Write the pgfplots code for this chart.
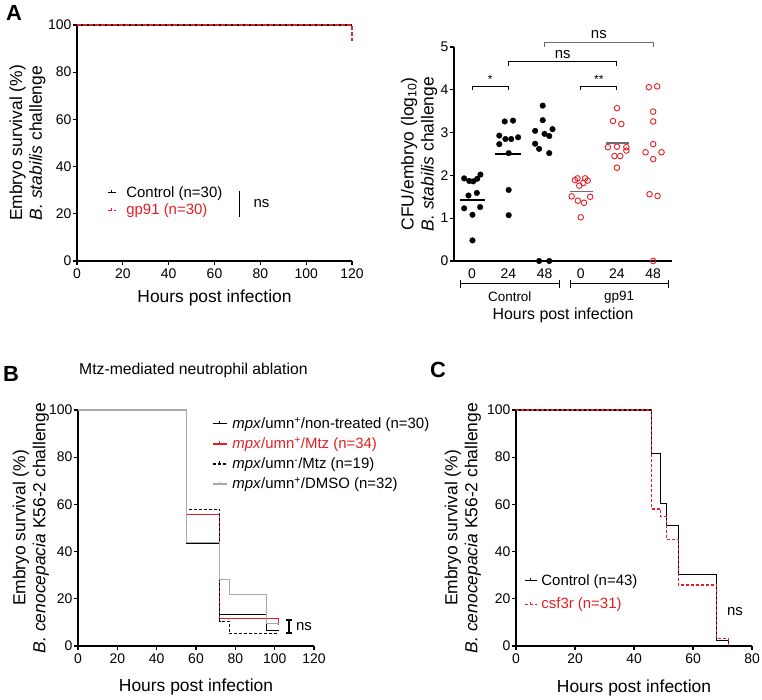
\documentclass[border=0pt]{standalone}
\usepackage{pgfplots}
\pgfplotsset{compat=1.18}
\usepackage{fontspec}
\setmainfont{Liberation Sans}
\definecolor{myred}{RGB}{228,30,36}
\definecolor{mygray}{RGB}{170,170,170}
\definecolor{brgray}{RGB}{110,110,110}
\newcommand\fsT{\fontsize{14}{16}\selectfont}
\newcommand\fsL{\fontsize{17.5}{20}\selectfont}
\newcommand\fsG{\fontsize{15}{17}\selectfont}
\pgfplotsset{
  gp/.style={
    scale only axis,
    axis x line*=bottom, axis y line*=left,
    axis line style={line width=1.2bp, -},
    tick align=outside,
    major tick length=4bp,
    tick style={line width=1.1bp, black},
    tick label style={font=\fsT},
    yticklabel style={inner sep=1.5bp},
    /pgf/number format/assume math mode=true,
    clip=false,
    legend cell align=left,
    x label style={font=\fsL},
    y label style={font=\fsL, align=center},
  },
}
\begin{document}
\begin{tikzpicture}[x=1bp,y=1bp]
\useasboundingbox (0,0) rectangle (762,700);
% ---------------- Panel A left
\begin{axis}[gp, const plot, at={(77bp,439bp)}, anchor=south west, width=275bp, height=236bp,
  xmin=0, xmax=120, ymin=0, ymax=100, xtick={0,20,...,120}, ytick={0,20,...,100},
  xlabel={Hours post infection},
  x label style={at={(axis description cs:0.5,-0.157)}, anchor=center},
  ylabel={Embryo survival (\%)\\\textit{B. stabilis} challenge},
  y label style={at={(axis description cs:-0.18,0.5)}, anchor=center},
  legend image code/.code={\draw[#1] (0bp,0bp) -- (8bp,0bp); \draw[#1,solid] (4bp,0bp) -- (4bp,2.5bp); \path (17bp,0bp);},
  legend style={draw=none, fill=none, font=\fsG, inner sep=0pt, nodes={inner sep=1bp, text depth=0.2em}, row sep=3bp,
    at={(axis description cs:0.109,0.322)}, anchor=north west},
]
\addplot[black, line width=1.2bp] coordinates {(0,100) (120,100)};
\addlegendentry{Control (n=30)}
\addplot[myred, line width=1.2bp, dash pattern=on 4bp off 2bp] coordinates {(0,100) (120,93.33)};
\addlegendentry{\textcolor{myred}{gp91 (n=30)}}
\draw[line width=1.1bp] (axis cs:71.1,29.7) -- (axis cs:71.1,18.6);
\node[font=\fsG, anchor=west] at (axis cs:75.5,24.2) {ns};
\end{axis}
% ---------------- Panel A right
\begin{axis}[gp, at={(454bp,439bp)}, anchor=south west, width=218bp, height=214bp,
  xmin=-0.5, xmax=5.52, ymin=0, ymax=5, ytick={0,...,5},
  xtick={0,...,5}, xticklabels={0,24,48,0,24,48}, xtick style={draw=none},
  ylabel={CFU/embryo (log\textsubscript{10})\\\textit{B. stabilis} challenge},
  y label style={at={(axis description cs:-0.16,0.5)}, anchor=center},
]
\addplot[only marks, mark=*, mark size=2.8bp, black] table {
x y
-0.22 1.93
-0.08 1.87
0.03 1.86
0.14 1.92
0.23 2.02
-0.10 1.53
0.13 1.59
-0.22 1.23
0.22 1.26
0.01 1.08
0.01 0.48
0.90 3.26
1.13 3.28
0.75 2.93
0.92 2.85
1.08 2.85
1.27 2.89
0.75 2.73
1.01 2.52
1.01 1.66
1.01 1.07
1.95 3.63
1.95 3.29
1.74 3.04
2.00 2.97
2.13 2.92
2.22 3.08
1.74 2.74
1.85 2.62
2.13 2.52
1.85 0
2.13 0
};
\addplot[only marks, mark=o, mark size=2.8bp, myred, mark options={line width=0.9bp}] table {
x y
2.84 1.89
2.91 1.93
3.12 1.93
3.19 1.88
3.07 1.82
2.96 1.76
2.75 1.51
2.92 1.41
3.09 1.36
3.26 1.50
3.00 1.02
4.00 3.57
3.89 3.27
4.12 3.20
3.75 2.66
4.00 2.67
4.26 2.66
4.26 2.58
3.93 2.45
4.09 2.45
4.00 2.18
4.88 4.06
5.11 4.08
5.00 3.49
5.00 3.26
5.00 2.73
4.79 2.54
5.23 2.54
5.00 2.38
4.90 1.56
5.12 1.52
5.00 0
};
% means
\addplot[black, line width=1.6bp] coordinates {(-0.33,1.42) (0.36,1.42)};
\addplot[black, line width=1.6bp] coordinates {(0.64,2.50) (1.35,2.50)};
\addplot[brgray, line width=1.6bp] coordinates {(2.69,1.62) (3.33,1.62)};
\addplot[brgray, line width=1.6bp] coordinates {(3.70,2.75) (4.32,2.75)};
% significance brackets
\draw[line width=1bp] (axis cs:0,4.0) -- (axis cs:0,4.08) -- (axis cs:1,4.08) -- (axis cs:1,4.0);
\node[font=\fontsize{12}{12}\selectfont] at (axis cs:0.5,4.25) {*};
\draw[line width=1bp] (axis cs:3,4.0) -- (axis cs:3,4.08) -- (axis cs:4,4.08) -- (axis cs:4,4.0);
\node[font=\fontsize{12}{12}\selectfont] at (axis cs:3.5,4.25) {**};
\draw[line width=1bp] (axis cs:1,4.55) -- (axis cs:1,4.65) -- (axis cs:4,4.65) -- (axis cs:4,4.55);
\node[font=\fsG] at (axis cs:2.5,4.82) {ns};
\draw[line width=1bp, brgray] (axis cs:2,5.0) -- (axis cs:2,5.11) -- (axis cs:5,5.11) -- (axis cs:5,5.0);
\node[font=\fsG] at (axis cs:3.5,5.28) {ns};
% group brackets
\draw[line width=1bp] (axis cs:-0.33,-0.537) -- (axis cs:2.40,-0.537);
\draw[line width=1bp] (axis cs:-0.33,-0.45) -- (axis cs:-0.33,-0.62);
\draw[line width=1bp] (axis cs:2.40,-0.45) -- (axis cs:2.40,-0.62);
\draw[line width=1bp] (axis cs:2.71,-0.537) -- (axis cs:5.41,-0.537);
\draw[line width=1bp] (axis cs:2.71,-0.45) -- (axis cs:2.71,-0.62);
\draw[line width=1bp] (axis cs:5.41,-0.45) -- (axis cs:5.41,-0.62);
\node[font=\fontsize{13.5}{15}\selectfont] at (axis cs:1.04,-0.84) {Control};
\node[font=\fontsize{13.5}{15}\selectfont] at (axis cs:4.06,-0.84) {gp91};
\node[font=\fontsize{16}{18}\selectfont] at (axis cs:2.51,-1.27) {Hours post infection};
\end{axis}
% ---------------- Panel B
\begin{axis}[gp, const plot, at={(78bp,54bp)}, anchor=south west, width=236bp, height=236bp,
  xmin=0, xmax=120, ymin=0, ymax=100, xtick={0,20,...,120}, ytick={0,20,...,100},
  xlabel={Hours post infection},
  x label style={at={(axis description cs:0.5,-0.174)}, anchor=center},
  ylabel={Embryo survival (\%)\\\textit{B. cenocepacia} K56-2 challenge},
  y label style={at={(axis description cs:-0.20,0.5)}, anchor=center},
  title={Mtz-mediated neutrophil ablation},
  title style={font=\fontsize{15.8}{18}\selectfont, at={(axis description cs:0.489,1.144)}, anchor=center},
  legend image code/.code={\draw[#1] (0bp,0bp) -- (14bp,0bp); \draw[#1,solid] (7bp,0bp) -- (7bp,2.5bp); \path (18bp,0bp);},
  legend style={draw=none, fill=none, font=\fsG, inner sep=0pt, nodes={inner sep=1bp, text depth=0.2em}, row sep=5bp,
    at={(axis description cs:0.568,0.975)}, anchor=north west},
]
\addplot[black, line width=1.2bp] coordinates {(0,100) (55,43.33) (72,13.33) (96,6.67) (102,6.67)};
\addlegendentry{\textit{mpx}/umn\textsuperscript{+}/non-treated (n=30)}
\addplot[myred, line width=1.2bp] coordinates {(0,100) (55,55.88) (72,11.76) (102,8.82)};
\addlegendentry{\textcolor{myred}{\textit{mpx}/umn\textsuperscript{+}/Mtz (n=34)}}
\addplot[black, line width=1.2bp, dash pattern=on 3bp off 2bp] coordinates {(0,100) (55,57.89) (72,10.53) (77,5.26) (102,5.26)};
\addlegendentry{\textit{mpx}/umn\textsuperscript{-}/Mtz (n=19)}
\addplot[mygray, line width=1.2bp] coordinates {(0,100) (55,43.75) (72,28.13) (77,21.88) (96,9.38) (102,9.38)};
\addlegendentry{\textit{mpx}/umn\textsuperscript{+}/DMSO (n=32)}
\draw[line width=1.1bp] (axis cs:105.8,11) -- (axis cs:108.8,11);
\draw[line width=1.1bp] (axis cs:107.3,11) -- (axis cs:107.3,5.5);
\draw[line width=1.1bp] (axis cs:105.8,5.5) -- (axis cs:108.8,5.5);
\node[font=\fsG] at (axis cs:114.9,8.05) {ns};
\end{axis}
% ---------------- Panel C
\begin{axis}[gp, const plot, at={(516bp,54bp)}, anchor=south west, width=236bp, height=236bp,
  xmin=0, xmax=80, ymin=0, ymax=100, xtick={0,20,...,80}, ytick={0,20,...,100},
  xlabel={Hours post infection},
  x label style={at={(axis description cs:0.5,-0.178)}, anchor=center},
  ylabel={Embryo survival (\%)\\\textit{B. cenocepacia} K56-2 challenge},
  y label style={at={(axis description cs:-0.225,0.5)}, anchor=center},
  legend image code/.code={\draw[#1] (0bp,0bp) -- (12bp,0bp); \draw[#1,solid] (6bp,0bp) -- (6bp,2.5bp); \path (15bp,0bp);},
  legend style={draw=none, fill=none, font=\fsG, inner sep=0pt, nodes={inner sep=1bp, text depth=0.2em}, row sep=9bp,
    at={(axis description cs:0.034,0.309)}, anchor=north west},
]
\addplot[black, line width=1.2bp] coordinates {(0,100) (46,81.40) (49,60.47) (51,51.16) (55,30.23) (68,2.33) (72,0)};
\addlegendentry{Control (n=43)}
\addplot[myred, line width=1.2bp, dash pattern=on 3bp off 2bp] coordinates {(0,100) (46,58.06) (49,54.84) (51,45.16) (55,25.81) (68,3.23) (72,0)};
\addlegendentry{\textcolor{myred}{csf3r (n=31)}}
\node[font=\fsG] at (axis cs:74.2,14.4) {ns};
\end{axis}
% panel letters
\node[font=\bfseries\fontsize{22}{22}\selectfont] at (14,687) {A};
\node[font=\bfseries\fontsize{22}{22}\selectfont] at (11,326) {B};
\node[font=\bfseries\fontsize{22}{22}\selectfont] at (438,330) {C};
\end{tikzpicture}
\end{document}
